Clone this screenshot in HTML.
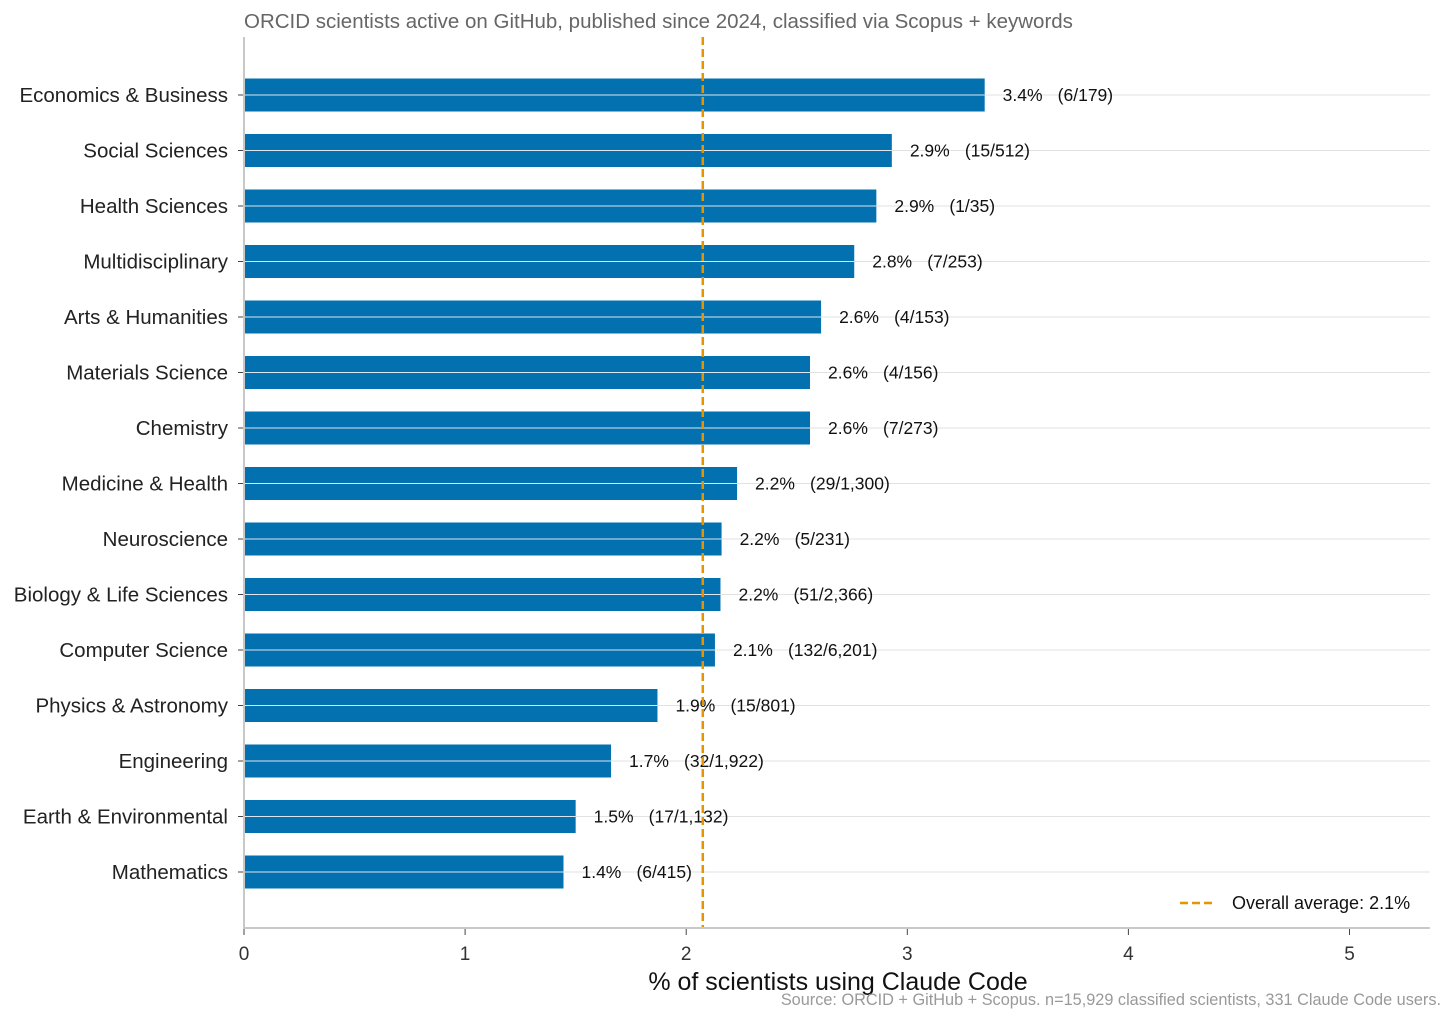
<!DOCTYPE html>
<html><head><meta charset="utf-8"><style>
body{margin:0;background:#fff;}
svg{display:block;font-family:"Liberation Sans",Arial,sans-serif;}
</style></head><body>
<svg id="chart" width="1456" height="1023"></svg>
<script>
const categories=["Economics & Business","Social Sciences","Health Sciences","Multidisciplinary","Arts & Humanities","Materials Science","Chemistry","Medicine & Health","Neuroscience","Biology & Life Sciences","Computer Science","Physics & Astronomy","Engineering","Earth & Environmental","Mathematics"];
const values=[3.35,2.93,2.86,2.76,2.61,2.56,2.56,2.23,2.16,2.155,2.13,1.87,1.66,1.50,1.445];
const valueLabels=["3.4%","2.9%","2.9%","2.8%","2.6%","2.6%","2.6%","2.2%","2.2%","2.2%","2.1%","1.9%","1.7%","1.5%","1.4%"];
const countLabels=["(6/179)","(15/512)","(1/35)","(7/253)","(4/153)","(4/156)","(7/273)","(29/1,300)","(5/231)","(51/2,366)","(132/6,201)","(15/801)","(32/1,922)","(17/1,132)","(6/415)"];
const xTicks=[0,1,2,3,4,5];
const overallAverage=2.075;

const NS="http://www.w3.org/2000/svg";
const svg=document.getElementById('chart');
const x=v=>244+v*221.1;
const y=i=>95+i*55.5;
function el(tag,attrs,parent){const e=document.createElementNS(NS,tag);for(const k in attrs)e.setAttribute(k,attrs[k]);(parent||svg).appendChild(e);return e;}

const title=el('text',{x:244,y:28,'font-size':20.5,fill:'#666'});
title.textContent="ORCID scientists active on GitHub, published since 2024, classified via Scopus + keywords";



categories.forEach((c,i)=>{
  const g=el('line',{x1:244,x2:1430,y1:y(i),y2:y(i),stroke:'#e2e2e2','stroke-width':1});
  
  
});
categories.forEach((c,i)=>{
  const b=el('rect',{x:x(0),y:y(i)-16.5,width:x(values[i])-x(0),height:33,fill:'#0370b0'});
  
  
  el('line',{x1:x(0),x2:x(values[i]),y1:y(i),y2:y(i),stroke:'#dde6ee','stroke-width':1});
  const t=el('text',{x:228,y:y(i)+7,'font-size':20.5,fill:'#222','text-anchor':'end'});
  t.textContent=c;
  
  
  el('line',{x1:238,x2:243,y1:y(i),y2:y(i),stroke:'#444'});
  const v=el('text',{x:x(values[i])+18,y:y(i)+6,'font-size':17.5,fill:'#111'});
  v.textContent=valueLabels[i];
  
  
  const cl=el('text',{x:x(values[i])+73,y:y(i)+6,'font-size':17.5,fill:'#111'});
  cl.textContent=countLabels[i];
  
  
});
const avg=el('line',{x1:x(overallAverage),x2:x(overallAverage),y1:37,y2:928,stroke:'#e69500','stroke-width':2.5,'stroke-dasharray':'8,4'});


el('line',{x1:244,x2:244,y1:37,y2:928,stroke:'#c8c8c8','stroke-width':2});
el('line',{x1:243,x2:1430,y1:928,y2:928,stroke:'#c8c8c8','stroke-width':2});
xTicks.forEach(v=>{
  el('line',{x1:x(v),x2:x(v),y1:929,y2:935,stroke:'#444'});
  const t=el('text',{x:x(v),y:960,'font-size':19,fill:'#333','text-anchor':'middle'});
  t.textContent=v;
  
  
});
const xl=el('text',{x:838,y:990,'font-size':25,fill:'#111','text-anchor':'middle'});
xl.textContent="% of scientists using Claude Code";


const src=el('text',{x:1441,y:1005,'font-size':16.3,fill:'#999','text-anchor':'end'});
src.textContent="Source: ORCID + GitHub + Scopus. n=15,929 classified scientists, 331 Claude Code users.";


const lg=el('g',{});


el('line',{x1:1180,x2:1216,y1:903,y2:903,stroke:'#e69500','stroke-width':2.5,'stroke-dasharray':'8,4'},lg);
const lt=el('text',{x:1232,y:909,'font-size':18,fill:'#111'},lg);
lt.textContent="Overall average: 2.1%";
</script>
</body></html>
